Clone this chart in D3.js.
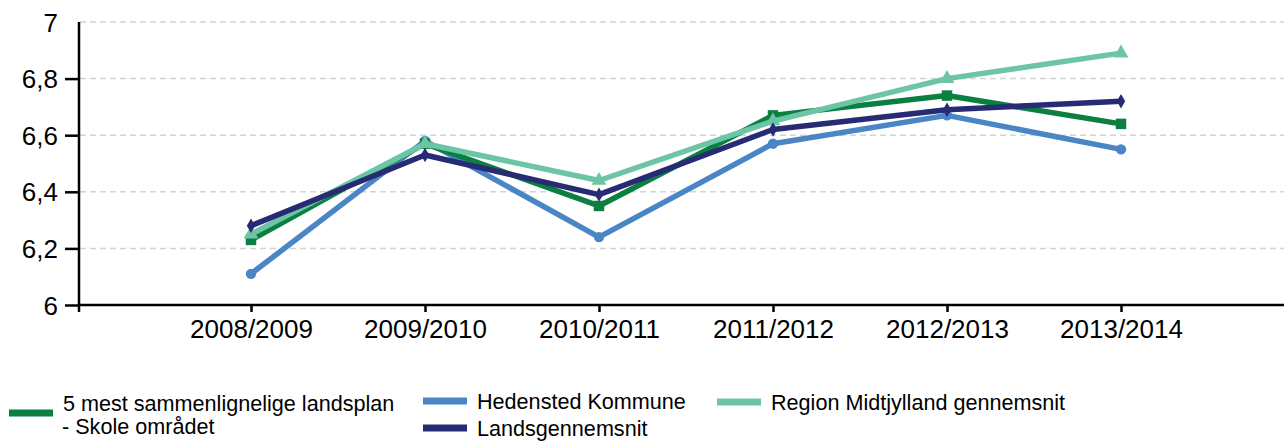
<!DOCTYPE html>
<html>
<head>
<meta charset="utf-8">
<title>Skole chart</title>
<script src="https://cdn.jsdelivr.net/npm/d3@7"></script>
<style>
  body { margin: 0; background: #fff; }
  svg { display: block; font-family: "Liberation Sans", Arial, sans-serif; }
  .grid line { stroke: #d4d4d4; stroke-width: 1.5; stroke-dasharray: 6 4; }
</style>
</head>
<body>
<div id="chart"></div>
<script>
  // data
  var seasons = ['2008/2009', '2009/2010', '2010/2011', '2011/2012', '2012/2013', '2013/2014'];
  var skole = [6.23, 6.57, 6.35, 6.67, 6.74, 6.64];
  var hedensted = [6.11, 6.58, 6.24, 6.57, 6.67, 6.55];
  var lands = [6.28, 6.53, 6.39, 6.62, 6.69, 6.72];
  var region = [6.25, 6.57, 6.44, 6.65, 6.80, 6.89];
  var yTicks = [6, 6.2, 6.4, 6.6, 6.8, 7];

  var series = [
    { name: '5 mest sammenlignelige landsplan', name2: '- Skole området', values: skole, color: '#0b7f40', symbol: d3.symbolSquare, size: 110, lx: 9, ly: 413 },
    { name: 'Hedensted Kommune', values: hedensted, color: '#4a86c6', symbol: d3.symbolCircle, size: 85, lx: 423, ly: 401 },
    { name: 'Landsgennemsnit', values: lands, color: '#262b74', symbol: d3.symbolDiamond, size: 60, lx: 423, ly: 428 },
    { name: 'Region Midtjylland gennemsnit', values: region, color: '#6cc5a5', symbol: d3.symbolTriangle, size: 95, lx: 717, ly: 402 }
  ];
  // drawing order (navy ends up on top)
  var drawOrder = [1, 0, 3, 2];

  var width = 1284, height = 441;
  var svg = d3.select('#chart')
    .append('svg')
    .attr('width', width)
    .attr('height', height);

  var x = d3.scalePoint()
    .domain(seasons)
    .range([251, 1121]);

  var y = d3.scaleLinear()
    .domain([6, 7])
    .range([305, 22]);

  var fmt = function(d) { return d3.format('.1~f')(d).replace('.', ','); };

  // dashed grid
  svg.append('g')
    .attr('class', 'grid')
    .selectAll('line')
    .data(yTicks.filter(function(d) { return d > 6; }))
    .enter()
    .append('line')
    .attr('x1', 80)
    .attr('x2', width)
    .attr('y1', function(d) { return y(d); })
    .attr('y2', function(d) { return y(d); });

  // y axis
  var yAxis = svg.append('g')
    .attr('transform', 'translate(79,0)')
    .call(d3.axisLeft(y).tickValues(yTicks).tickFormat(fmt).tickSize(14).tickPadding(7));
  yAxis.select('.domain').remove();
  yAxis.selectAll('.tick line').attr('stroke', '#000').attr('stroke-width', 2.5)
    .filter(function(d) { return d === 7; }).remove();
  yAxis.selectAll('.tick text')
    .attr('font-size', 26)
    .attr('font-family', '"Liberation Sans", Arial, sans-serif')
    .attr('fill', '#000')
    .attr('dy', '0.35em');

  // x axis
  var xAxis = svg.append('g')
    .attr('transform', 'translate(0,305)')
    .call(d3.axisBottom(x).tickSize(7).tickPadding(8));
  xAxis.select('.domain').remove();
  xAxis.selectAll('.tick line').attr('stroke', '#000').attr('stroke-width', 2.5);
  xAxis.selectAll('.tick text')
    .attr('font-size', 26)
    .attr('font-family', '"Liberation Sans", Arial, sans-serif')
    .attr('fill', '#000');

  svg.append('line')
    .attr('x1', 79).attr('x2', width)
    .attr('y1', 305).attr('y2', 305)
    .attr('stroke', '#000').attr('stroke-width', 2.5);
  svg.append('line')
    .attr('x1', 79).attr('x2', 79)
    .attr('y1', 22).attr('y2', 312)
    .attr('stroke', '#000').attr('stroke-width', 2.5);

  var line = d3.line()
    .x(function(d, i) { return x(seasons[i]); })
    .y(function(d) { return y(d); });

  drawOrder.forEach(function(k) {
    var s = series[k];
    svg.append('path')
      .datum(s.values)
      .attr('fill', 'none')
      .attr('stroke', s.color)
      .attr('stroke-width', 5.5)
      .attr('stroke-linejoin', 'round')
      .attr('d', line);

    svg.append('g')
      .selectAll('path')
      .data(s.values)
      .enter()
      .append('path')
      .attr('transform', function(d, i) { return 'translate(' + x(seasons[i]) + ',' + y(d) + ')'; })
      .attr('d', d3.symbol().type(s.symbol).size(s.size))
      .attr('fill', s.color);
  });

  // legend
  var legend = svg.append('g');
  series.forEach(function(s) {
    legend.append('rect')
      .attr('x', s.lx)
      .attr('y', s.ly - 3.5)
      .attr('width', 44)
      .attr('height', 7)
      .attr('fill', s.color);
    legend.append('text')
      .attr('x', s.lx + 54)
      .attr('y', s.name2 ? 411 : s.ly + 8)
      .attr('font-size', 21.6)
      .attr('fill', '#000')
      .text(s.name);
    if (s.name2) {
      legend.append('text')
        .attr('x', s.lx + 53)
        .attr('y', 434)
        .attr('font-size', 21.6)
        .attr('fill', '#000')
        .text(s.name2);
    }
  });
</script>
</body>
</html>
